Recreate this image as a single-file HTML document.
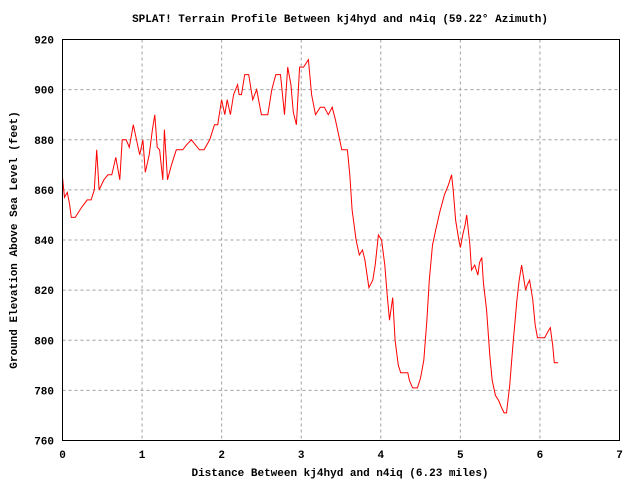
<!DOCTYPE html>
<html><head><meta charset="utf-8"><style>
body{margin:0;background:#fff}
svg{display:block;font-family:"Liberation Mono",monospace;font-size:11px;font-weight:bold}
</style></head><body>
<svg id="c" width="640" height="480">
<text x="340" y="22" text-anchor="middle">SPLAT! Terrain Profile Between kj4hyd and n4iq (59.22° Azimuth)</text>
<text x="340" y="476" text-anchor="middle">Distance Between kj4hyd and n4iq (6.23 miles)</text>
<text transform="translate(17,240) rotate(-90)" text-anchor="middle">Ground Elevation Above Sea Level (feet)</text>
<g id="grid"></g><g id="ticks"></g>
<polyline id="line" fill="none" stroke="#f00" stroke-width="1"/>
<rect x="62.5" y="39.5" width="557" height="401" fill="none" stroke="#000"/>
</svg>
<script>
const xTicks=[0,1,2,3,4,5,6,7];
const yTicks=[760,780,800,820,840,860,880,900,920];
const dist=[0,0.025,0.06,0.09,0.11,0.16,0.24,0.31,0.36,0.40,0.43,0.46,0.52,0.57,0.62,0.67,0.72,0.75,0.80,0.84,0.89,0.93,0.97,1.01,1.04,1.09,1.13,1.16,1.19,1.22,1.26,1.28,1.32,1.37,1.43,1.51,1.56,1.62,1.67,1.72,1.78,1.85,1.91,1.95,2.0,2.04,2.07,2.11,2.15,2.2,2.22,2.25,2.29,2.34,2.39,2.44,2.5,2.58,2.63,2.68,2.74,2.79,2.83,2.87,2.9,2.94,2.98,3.03,3.07,3.09,3.13,3.18,3.24,3.29,3.34,3.39,3.43,3.47,3.51,3.58,3.61,3.64,3.69,3.73,3.77,3.8,3.85,3.9,3.93,3.97,4.01,4.05,4.08,4.11,4.15,4.18,4.22,4.25,4.34,4.36,4.40,4.46,4.5,4.54,4.58,4.61,4.65,4.69,4.74,4.80,4.85,4.89,4.91,4.94,4.98,5.0,5.03,5.06,5.08,5.12,5.14,5.18,5.22,5.24,5.27,5.29,5.33,5.37,5.40,5.44,5.48,5.52,5.55,5.58,5.62,5.66,5.71,5.74,5.77,5.79,5.82,5.84,5.87,5.91,5.94,5.97,6.06,6.11,6.13,6.16,6.18,6.23];
const elev=[865,857,859,854,849,849,853,856,856,860,876,860,864,866,866,873,864,880,880,877,886,880,874,880,867,874,884,890,877,876,864,884,864,870,876,876,878,880,878,876,876,880,886,886,896,890,896,890,898,902,898,898,906,906,896,900,890,890,900,906,906,890,909,902,891,886,909,909,911,912,898,890,893,893,890,893,888,882,876,876,866,852,840,834,836,832,821,824,830,842,840,830,818,808,817,800,790,787,787,784,781,781,785,792,808,824,838,844,851,858,862,866,860,848,840,837,842,846,850,838,828,830,826,831,833,823,812,794,784,778,776,773,771,771,782,798,816,824,830,826,820,822,824,816,806,801,801,804,805,798,791,791];
const X0=62.5,X1=619.5,Y0=440.5,Y1=39.5;
const sx=v=>X0+(v-0)/7*(X1-X0);
const sy=v=>Y0-(v-760)/160*(Y0-Y1);
const NS="http://www.w3.org/2000/svg";
const grid=document.getElementById('grid'),ticks=document.getElementById('ticks');
function mk(tag,a,p){const e=document.createElementNS(NS,tag);for(const k in a)e.setAttribute(k,a[k]);p.appendChild(e);return e;}
xTicks.forEach(t=>{
  const x=sx(t);
  if(t>0&&t<7){const g=mk('line',{x1:x,x2:x,y1:Y1,y2:Y0,stroke:'#a0a0a0','stroke-dasharray':'3,3'},grid);
  
  }
  const l=mk('text',{x:x,y:458,'text-anchor':'middle'},ticks);l.textContent=t;
  
  
});
yTicks.forEach(t=>{
  const y=sy(t);
  if(t>760&&t<920){const g=mk('line',{x1:X0,x2:X1,y1:y,y2:y,stroke:'#a0a0a0','stroke-dasharray':'3,3'},grid);
  
  }
  const l=mk('text',{x:54,y:y+4,'text-anchor':'end'},ticks);l.textContent=t;
  
  
});
document.getElementById('line').setAttribute('points',dist.map((d,i)=>sx(d).toFixed(1)+','+sy(elev[i]).toFixed(1)).join(' '));
</script>
</body></html>
